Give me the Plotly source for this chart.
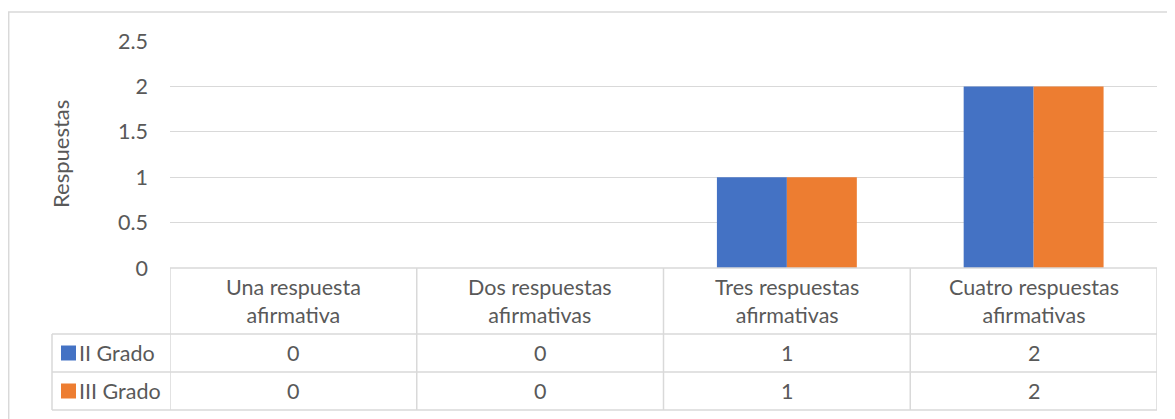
import plotly.graph_objects as go

# ---- data ----
categories = ["Una respuesta afirmativa", "Dos respuestas afirmativas",
              "Tres respuestas afirmativas", "Cuatro respuestas afirmativas"]
category_lines = [("Una respuesta", "afirmativa"), ("Dos respuestas", "afirmativas"),
                  ("Tres respuestas", "afirmativas"), ("Cuatro respuestas", "afirmativas")]
series_names = ["II Grado", "III Grado"]
ii_grado = [0, 0, 1, 2]
iii_grado = [0, 0, 1, 2]
series_values = [ii_grado, iii_grado]
series_colors = ["#4472C4", "#ED7D31"]
y_ticks = [0, 0.5, 1, 1.5, 2, 2.5]
y_ticklabels = ["0", "0.5", "1", "1.5", "2", "2.5"]
y_title = "Respuestas"

# ---- layout geometry (screen pixels) ----
W, H = 1175, 419
OFF = 8  # page body margin
PLOT_L, PLOT_R = 170, 1157
PLOT_T, PLOT_B = 41, 268
ROW1, ROW2, TBL_B = 334, 372, 410
TBL_L = 52
GRID = "#d9d9d9"
TXT = "#595959"
FONT = "Lato"
FS = 21.5


def px(x):
    return (x - OFF) / W


def py(y):
    return 1 - (y - OFF) / H


fig = go.Figure()
for name, vals, col in zip(series_names, series_values, series_colors):
    fig.add_trace(go.Bar(x=categories, y=vals, name=name, marker=dict(color=col, line=dict(width=0)),
                         showlegend=False))

shapes = []
annotations = []

# outer chart border (left and top edges visible)
shapes.append(dict(type="line", xref="paper", yref="paper", x0=0.0006, x1=0.0006, y0=py(12), y1=0,
                   line=dict(color=GRID, width=1.5), layer="below"))
shapes.append(dict(type="line", xref="paper", yref="paper", x0=0, x1=1, y0=py(12), y1=py(12),
                   line=dict(color=GRID, width=1.5), layer="below"))

# table horizontal lines
shapes.append(dict(type="line", xref="paper", yref="paper", x0=px(PLOT_L), x1=px(PLOT_R), y0=py(PLOT_B), y1=py(PLOT_B),
                   line=dict(color=GRID, width=1.5)))
for yy in [ROW1, ROW2, TBL_B]:
    shapes.append(dict(type="line", xref="paper", yref="paper", x0=px(TBL_L), x1=px(PLOT_R), y0=py(yy), y1=py(yy),
                       line=dict(color=GRID, width=1.5)))
# table vertical lines
shapes.append(dict(type="line", xref="paper", yref="paper", x0=px(TBL_L), x1=px(TBL_L), y0=py(ROW1), y1=py(TBL_B),
                   line=dict(color=GRID, width=1.5)))
for i in range(len(categories) + 1):
    xv = i - 0.5
    shapes.append(dict(type="line", xref="x", yref="paper", x0=xv, x1=xv, y0=py(PLOT_B), y1=py(TBL_B),
                       line=dict(color=GRID, width=1.5)))

# category header text
for i, (l1, l2) in enumerate(category_lines):
    annotations.append(dict(x=categories[i], y=py((PLOT_B + ROW1) / 2), xref="x", yref="paper",
                            xanchor="center", yanchor="middle",
                            text=l1 + "<br>" + l2, showarrow=False,
                            font=dict(family=FONT, size=FS, color=TXT), align="center"))

# data rows
row_centers = [(ROW1 + ROW2) / 2, (ROW2 + TBL_B) / 2]
for r, (name, vals, col) in enumerate(zip(series_names, series_values, series_colors)):
    yc = row_centers[r]
    shapes.append(dict(type="rect", xref="paper", yref="paper", x0=px(61), x1=px(76), y0=py(yc - 7.5), y1=py(yc + 7.5),
                       fillcolor=col, line=dict(width=0)))
    annotations.append(dict(x=px(77), y=py(yc), xref="paper", yref="paper", text=name, showarrow=False,
                            xanchor="left", yanchor="middle", font=dict(family=FONT, size=FS, color=TXT)))
    for i, v in enumerate(vals):
        annotations.append(dict(x=categories[i], y=py(yc), xref="x", yref="paper", text=str(v), showarrow=False,
                                xanchor="center", yanchor="middle",
                                font=dict(family=FONT, size=FS, color=TXT)))

# y-axis title
annotations.append(dict(x=px(60), y=py(154), xref="paper", yref="paper", text=y_title, textangle=-90,
                        xanchor="center", yanchor="middle",
                        showarrow=False, font=dict(family=FONT, size=22, color=TXT)))

fig.update_layout(
    width=W, height=H,
    margin=dict(l=0, r=0, t=0, b=0, autoexpand=False),
    paper_bgcolor="white", plot_bgcolor="white",
    barmode="group", bargap=0.433, bargroupgap=0,
    xaxis=dict(domain=[px(PLOT_L), px(PLOT_R)], range=[-0.5, 3.5], showticklabels=False, automargin=False,
               showgrid=False, zeroline=False, showline=False, ticks=""),
    yaxis=dict(domain=[py(PLOT_B), py(PLOT_T)], range=[0, 2.5], tickvals=y_ticks, ticktext=y_ticklabels,
               showgrid=True, gridcolor=GRID, gridwidth=1.3, zeroline=False, showline=False, ticks="",
               automargin=False, ticklabelstandoff=21,
               tickfont=dict(family=FONT, size=FS, color=TXT)),
    shapes=shapes, annotations=annotations,
    font=dict(family=FONT, color=TXT),
)

fig.write_html("out.html")
